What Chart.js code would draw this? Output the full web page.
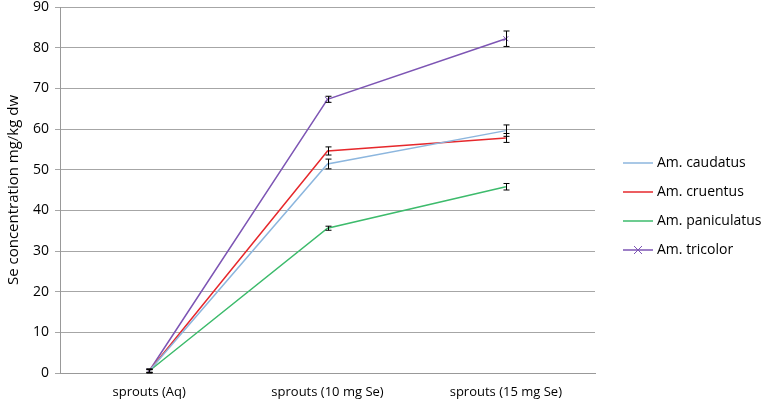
<!DOCTYPE html>
<html>
<head>
<meta charset="utf-8">
<script src="https://cdn.jsdelivr.net/npm/chart.js@4/dist/chart.umd.min.js"></script>
<style>
  html, body { margin: 0; padding: 0; background: #fff; }
  #wrap { width: 761px; height: 402px; position: relative; }
</style>
</head>
<body>
<div id="wrap"><canvas id="lineChart"></canvas></div>
<script>
// data
var categories = ["sprouts (Aq)", "sprouts (10 mg Se)", "sprouts (15 mg Se)"];
var seriesNames = ["Am. caudatus", "Am. cruentus", "Am. paniculatus", "Am. tricolor"];
var caudatus = [0.5, 51.4, 59.6];
var cruentus = [0.5, 54.6, 57.8];
var paniculatus = [0.5, 35.6, 45.8];
var tricolor = [0.5, 67.3, 82.2];
var caudatusErr = [0.4, 1.2, 1.4];
var cruentusErr = [0.4, 1.0, 1.1];
var paniculatusErr = [0.3, 0.5, 0.8];
var tricolorErr = [0.5, 0.75, 1.9];
var yTicks = [0, 10, 20, 30, 40, 50, 60, 70, 80, 90];

var colors = ["#8cb6de", "#e6282c", "#3dbb6c", "#7d55b4"];
var fontFam = "'Open Sans', sans-serif";

// error bars drawn through the scales
var errorBars = {
  id: "errorBars",
  afterDatasetsDraw: function(chart) {
    var ctx = chart.ctx;
    var y = chart.scales.y;
    ctx.save();
    ctx.strokeStyle = "#000";
    ctx.lineWidth = 1;
    chart.data.datasets.forEach(function(ds, i) {
      var meta = chart.getDatasetMeta(i);
      meta.data.forEach(function(pt, j) {
        var v = ds.data[j], e = ds.errors[j];
        var x = Math.round(pt.x) + 0.5;
        var y1 = y.getPixelForValue(v + e), y2 = y.getPixelForValue(v - e);
        ctx.beginPath();
        ctx.moveTo(x, y1); ctx.lineTo(x, y2);
        ctx.moveTo(x - 3, y1); ctx.lineTo(x + 3, y1);
        ctx.moveTo(x - 3, y2); ctx.lineTo(x + 3, y2);
        ctx.stroke();
      });
    });
    ctx.restore();
  }
};

// legend on the right, Excel style
var sideLegend = {
  id: "sideLegend",
  afterDraw: function(chart) {
    var ctx = chart.ctx;
    var left = chart.chartArea.right + 28;
    var top = 163;
    ctx.save();
    ctx.font = "14px " + fontFam;
    ctx.textBaseline = "middle";
    chart.data.datasets.forEach(function(ds, i) {
      var yy = top + i * 29;
      ctx.strokeStyle = ds.borderColor;
      ctx.lineWidth = 1.5;
      ctx.beginPath();
      ctx.moveTo(left, yy); ctx.lineTo(left + 30, yy);
      ctx.stroke();
      if (ds.pointStyle === "crossRot") {
        ctx.lineWidth = 1;
        ctx.beginPath();
        ctx.moveTo(left + 11, yy - 4); ctx.lineTo(left + 19, yy + 4);
        ctx.moveTo(left + 11, yy + 4); ctx.lineTo(left + 19, yy - 4);
        ctx.stroke();
      }
      ctx.fillStyle = "#000";
      ctx.fillText(ds.label, left + 34, yy);
    });
    ctx.restore();
  }
};

function series(label, data, errs, color, marker) {
  return {
    label: label,
    data: data,
    errors: errs,
    borderColor: color,
    backgroundColor: color,
    borderWidth: 1.5,
    pointStyle: marker ? "crossRot" : "circle",
    pointRadius: marker ? 3.5 : 0,
    pointBorderWidth: 1,
    pointBorderColor: color,
    tension: 0,
    fill: false
  };
}

var line = document.getElementById("lineChart");
var myLineChart = new Chart(line, {
  type: "line",
  data: {
    labels: categories,
    datasets: [
      series(seriesNames[0], caudatus, caudatusErr, colors[0], false),
      series(seriesNames[1], cruentus, cruentusErr, colors[1], false),
      series(seriesNames[2], paniculatus, paniculatusErr, colors[2], false),
      series(seriesNames[3], tricolor, tricolorErr, colors[3], true)
    ]
  },
  options: {
    responsive: true,
    maintainAspectRatio: false,
    animation: false,
    layout: { padding: { top: 7, right: 166, bottom: 0, left: 4 } },
    plugins: {
      legend: { display: false },
      tooltip: { enabled: false }
    },
    scales: {
      x: {
        offset: true,
        grid: { display: false, drawTicks: false },
        border: { color: "#999", width: 1 },
        ticks: { color: "#000", font: { family: fontFam, size: 13 }, padding: 11, maxRotation: 0 },
        afterFit: function(s) { s.paddingLeft = 0; s.paddingRight = 0; s.height = 29; }
      },
      y: {
        min: 0,
        max: 90,
        afterBuildTicks: function(axis) {
          axis.ticks = yTicks.map(function(v) { return { value: v }; });
        },
        afterFit: function(s) { s.paddingTop = 0; s.paddingBottom = 0; },
        grid: { color: "#a6a6a6", tickLength: 5, lineWidth: 1 },
        border: { color: "#999", width: 1 },
        ticks: { color: "#000", font: { family: fontFam, size: 14 }, padding: 6 },
        title: {
          display: true,
          text: "Se concentration mg/kg dw",
          color: "#000",
          font: { family: fontFam, size: 15 },
          padding: { top: 1, bottom: 4 }
        }
      }
    }
  },
  plugins: [errorBars, sideLegend]
});
</script>
</body>
</html>
